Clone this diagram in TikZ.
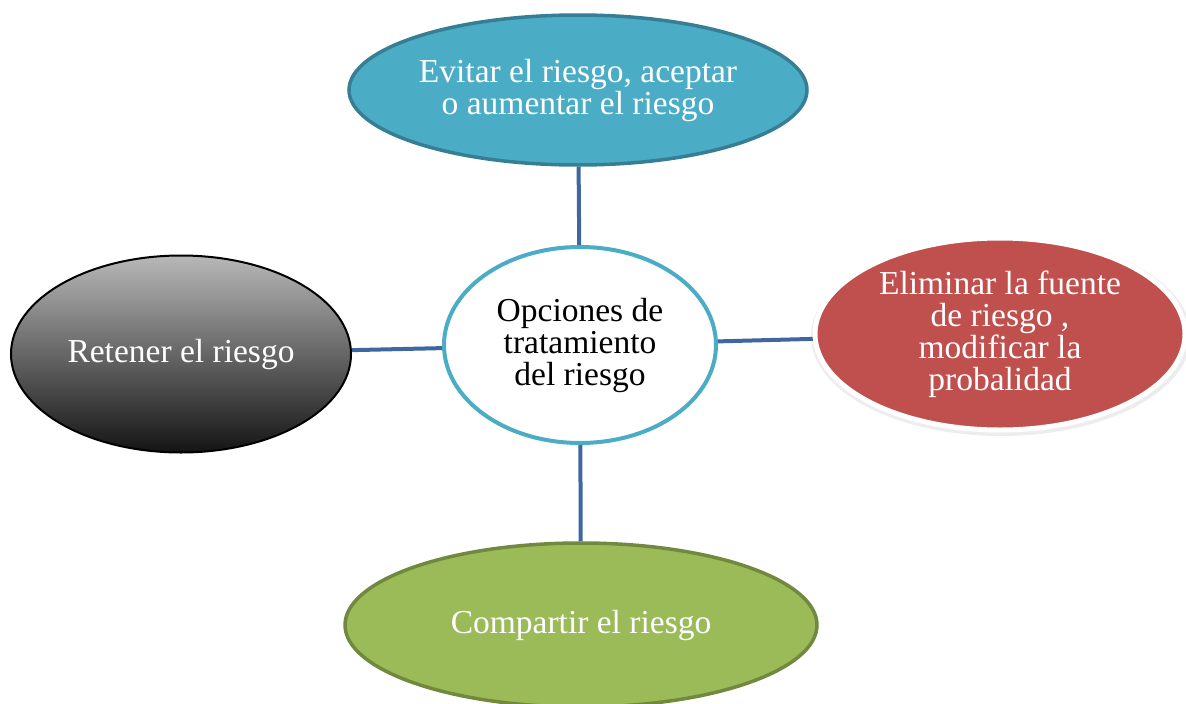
\documentclass[tikz,border=0pt]{standalone}
\usepackage{fontspec}
\setmainfont{Liberation Serif}
\usetikzlibrary{shapes.geometric}
\definecolor{aquaFill}{HTML}{4BACC6}
\definecolor{aquaLine}{HTML}{357E93}
\definecolor{linkBlue}{HTML}{3F66A0}
\definecolor{redFill}{HTML}{C0504D}
\definecolor{greenFill}{HTML}{9BBB59}
\definecolor{greenLine}{HTML}{71893F}
\tikzset{
  bubble/.style={ellipse, inner sep=0pt, align=center, font=\fontsize{33.5}{32}\selectfont},
  link/.style={draw=linkBlue, line width=4pt},
}
\begin{document}
\begin{tikzpicture}[x=1pt,y=-1pt]
\useasboundingbox (0,0) rectangle (1186,704);
\begin{scope}
\clip (0,0) rectangle (1186,704);
% nodes
\node[bubble, draw=aquaLine, line width=3.5pt, fill=aquaFill, text=white,
      minimum width=458pt, minimum height=150pt] (top) at (578,90)
      {Evitar el riesgo, aceptar\\o aumentar el riesgo};
\node[bubble, draw=aquaFill, line width=4pt, fill=white, text=black,
      minimum width=272pt, minimum height=196pt] (mid) at (580,345)
      {Opciones de\\tratamiento\\del riesgo};
\node[bubble, draw=black, line width=2pt, top color=black!28, bottom color=black!92,
      middle color=black!60, text=white,
      minimum width=340pt, minimum height=197pt] (left) at (181,354)
      {Retener el riesgo};
\fill[black!7] (1001,336) ellipse [x radius=190pt, y radius=100pt];
\node[bubble, draw=white, line width=5pt, fill=redFill, text=white,
      minimum width=370pt, minimum height=192pt] (right) at (1000,334)
      {Eliminar la fuente\\de riesgo ,\\modificar la\\probalidad};
\node[bubble, draw=greenLine, line width=3.5pt, fill=greenFill, text=white,
      minimum width=472pt, minimum height=164pt] (bot) at (581,625)
      {Compartir el riesgo};
% connectors
\draw[link] (top) -- (mid);
\draw[link] (left) -- (mid);
\draw[link] (mid) -- (right);
\draw[link] (mid) -- (bot);
\end{scope}
\end{tikzpicture}
\end{document}
